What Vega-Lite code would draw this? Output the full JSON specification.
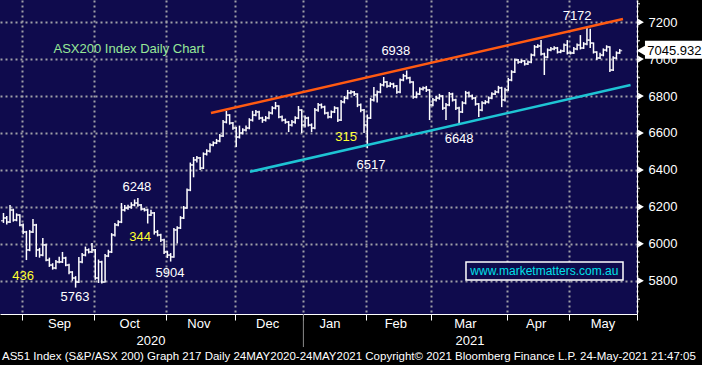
{
"$schema":"https://vega.github.io/schema/vega-lite/v6.json",
"width":637,"height":314,"autosize":"none",
"padding":{"left":0,"top":0,"right":65,"bottom":51},
"background":"#000000",
"config":{"view":{"fill":"#0f0b4d","stroke":null}},
"resolve":{"axis":{"x":"independent","y":"independent"}},
"datasets":{
"bars":[
{"d":0,"o":6125,"h":6167,"l":6113,"c":6140},{"d":1,"o":6140,"h":6150,"l":6105,"c":6118},{"d":2,"o":6118,"h":6210,"l":6112,"c":6183},{"d":3,"o":6183,"h":6190,"l":6120,"c":6129},{"d":4,"o":6129,"h":6165,"l":6122,"c":6156},{"d":5,"o":6156,"h":6160,"l":6095,"c":6102},{"d":6,"o":6102,"h":6110,"l":6052,"c":6064},{"d":7,"o":6064,"h":6070,"l":5912,"c":5967},{"d":8,"o":5967,"h":6075,"l":5960,"c":6064},{"d":9,"o":6064,"h":6134,"l":6058,"c":6102},
{"d":10,"o":6102,"h":6108,"l":5929,"c":5967},{"d":11,"o":5967,"h":5978,"l":5925,"c":5939},{"d":12,"o":5939,"h":6031,"l":5932,"c":5994},{"d":13,"o":5994,"h":6000,"l":5905,"c":5912},{"d":14,"o":5912,"h":5925,"l":5875,"c":5885},{"d":15,"o":5885,"h":5895,"l":5860,"c":5869},{"d":16,"o":5869,"h":5912,"l":5862,"c":5902},{"d":17,"o":5902,"h":5930,"l":5895,"c":5902},{"d":18,"o":5902,"h":5956,"l":5896,"c":5923},{"d":19,"o":5923,"h":5930,"l":5878,"c":5885},
{"d":20,"o":5885,"h":5892,"l":5835,"c":5847},{"d":21,"o":5847,"h":5852,"l":5800,"c":5815},{"d":22,"o":5815,"h":5825,"l":5763,"c":5793},{"d":23,"o":5793,"h":5929,"l":5788,"c":5902},{"d":24,"o":5902,"h":5950,"l":5895,"c":5939},{"d":25,"o":5939,"h":5985,"l":5932,"c":5967},{"d":26,"o":5967,"h":5975,"l":5948,"c":5956},{"d":27,"o":5956,"h":6004,"l":5950,"c":5967},{"d":28,"o":5967,"h":5972,"l":5805,"c":5815},{"d":29,"o":5815,"h":5915,"l":5788,"c":5902},
{"d":30,"o":5902,"h":5908,"l":5785,"c":5793},{"d":31,"o":5793,"h":5945,"l":5790,"c":5934},{"d":32,"o":5934,"h":5968,"l":5928,"c":5956},{"d":33,"o":5956,"h":6058,"l":5950,"c":6048},{"d":34,"o":6048,"h":6112,"l":6040,"c":6102},{"d":35,"o":6102,"h":6128,"l":6095,"c":6118},{"d":36,"o":6118,"h":6221,"l":6112,"c":6183},{"d":37,"o":6183,"h":6210,"l":6175,"c":6194},{"d":38,"o":6194,"h":6212,"l":6185,"c":6199},{"d":39,"o":6199,"h":6225,"l":6190,"c":6210},
{"d":40,"o":6210,"h":6240,"l":6203,"c":6221},{"d":41,"o":6221,"h":6248,"l":6200,"c":6210},{"d":42,"o":6210,"h":6215,"l":6180,"c":6188},{"d":43,"o":6188,"h":6195,"l":6175,"c":6183},{"d":44,"o":6183,"h":6190,"l":6110,"c":6156},{"d":45,"o":6156,"h":6185,"l":6150,"c":6167},{"d":46,"o":6167,"h":6172,"l":6050,"c":6064},{"d":47,"o":6064,"h":6075,"l":6040,"c":6048},{"d":48,"o":6048,"h":6055,"l":6010,"c":6021},{"d":49,"o":6021,"h":6028,"l":5945,"c":5956},
{"d":50,"o":5956,"h":5962,"l":5923,"c":5939},{"d":51,"o":5939,"h":5950,"l":5904,"c":5929},{"d":52,"o":5929,"h":6085,"l":5925,"c":6075},{"d":53,"o":6075,"h":6095,"l":6002,"c":6086},{"d":54,"o":6086,"h":6150,"l":6080,"c":6140},{"d":55,"o":6140,"h":6205,"l":6135,"c":6194},{"d":56,"o":6194,"h":6300,"l":6190,"c":6291},{"d":57,"o":6291,"h":6440,"l":6285,"c":6427},{"d":58,"o":6427,"h":6470,"l":6360,"c":6454},{"d":59,"o":6454,"h":6475,"l":6440,"c":6465},
{"d":60,"o":6465,"h":6470,"l":6400,"c":6410},{"d":61,"o":6410,"h":6495,"l":6405,"c":6486},{"d":62,"o":6486,"h":6512,"l":6478,"c":6502},{"d":63,"o":6502,"h":6545,"l":6495,"c":6535},{"d":64,"o":6535,"h":6555,"l":6528,"c":6546},{"d":65,"o":6546,"h":6568,"l":6540,"c":6557},{"d":66,"o":6557,"h":6595,"l":6550,"c":6584},{"d":67,"o":6584,"h":6670,"l":6578,"c":6659},{"d":68,"o":6659,"h":6719,"l":6652,"c":6697},{"d":69,"o":6697,"h":6702,"l":6645,"c":6654},
{"d":70,"o":6654,"h":6660,"l":6618,"c":6627},{"d":71,"o":6627,"h":6632,"l":6524,"c":6578},{"d":72,"o":6578,"h":6640,"l":6570,"c":6600},{"d":73,"o":6600,"h":6625,"l":6592,"c":6616},{"d":74,"o":6616,"h":6640,"l":6608,"c":6627},{"d":75,"o":6627,"h":6680,"l":6620,"c":6670},{"d":76,"o":6670,"h":6720,"l":6662,"c":6697},{"d":77,"o":6697,"h":6725,"l":6690,"c":6714},{"d":78,"o":6714,"h":6720,"l":6672,"c":6681},{"d":79,"o":6681,"h":6688,"l":6655,"c":6670},
{"d":80,"o":6670,"h":6692,"l":6662,"c":6681},{"d":81,"o":6681,"h":6718,"l":6675,"c":6708},{"d":82,"o":6708,"h":6745,"l":6700,"c":6735},{"d":83,"o":6735,"h":6768,"l":6728,"c":6746},{"d":84,"o":6746,"h":6750,"l":6680,"c":6687},{"d":85,"o":6687,"h":6695,"l":6662,"c":6670},{"d":86,"o":6670,"h":6678,"l":6650,"c":6659},{"d":87,"o":6659,"h":6665,"l":6605,"c":6643},{"d":88,"o":6643,"h":6670,"l":6635,"c":6659},{"d":89,"o":6659,"h":6690,"l":6650,"c":6681},
{"d":90,"o":6681,"h":6746,"l":6675,"c":6724},{"d":91,"o":6724,"h":6728,"l":6600,"c":6643},{"d":92,"o":6643,"h":6695,"l":6630,"c":6681},{"d":93,"o":6681,"h":6688,"l":6635,"c":6643},{"d":94,"o":6643,"h":6652,"l":6605,"c":6627},{"d":95,"o":6627,"h":6735,"l":6620,"c":6724},{"d":96,"o":6724,"h":6762,"l":6715,"c":6752},{"d":97,"o":6752,"h":6760,"l":6732,"c":6741},{"d":98,"o":6741,"h":6748,"l":6700,"c":6708},{"d":99,"o":6708,"h":6715,"l":6678,"c":6687},
{"d":100,"o":6687,"h":6722,"l":6680,"c":6714},{"d":101,"o":6714,"h":6745,"l":6708,"c":6735},{"d":102,"o":6735,"h":6740,"l":6660,"c":6670},{"d":103,"o":6670,"h":6778,"l":6665,"c":6768},{"d":104,"o":6768,"h":6800,"l":6760,"c":6789},{"d":105,"o":6789,"h":6833,"l":6782,"c":6817},{"d":106,"o":6817,"h":6832,"l":6810,"c":6822},{"d":107,"o":6822,"h":6828,"l":6800,"c":6811},{"d":108,"o":6811,"h":6815,"l":6740,"c":6752},{"d":109,"o":6752,"h":6760,"l":6712,"c":6724},
{"d":110,"o":6724,"h":6730,"l":6600,"c":6643},{"d":111,"o":6643,"h":6700,"l":6517,"c":6681},{"d":112,"o":6681,"h":6790,"l":6676,"c":6779},{"d":113,"o":6779,"h":6849,"l":6770,"c":6806},{"d":114,"o":6806,"h":6830,"l":6765,"c":6822},{"d":115,"o":6822,"h":6870,"l":6815,"c":6860},{"d":116,"o":6860,"h":6903,"l":6852,"c":6876},{"d":117,"o":6876,"h":6882,"l":6845,"c":6854},{"d":118,"o":6854,"h":6875,"l":6848,"c":6865},{"d":119,"o":6865,"h":6872,"l":6842,"c":6854},
{"d":120,"o":6854,"h":6860,"l":6812,"c":6822},{"d":121,"o":6822,"h":6895,"l":6815,"c":6887},{"d":122,"o":6887,"h":6920,"l":6880,"c":6909},{"d":123,"o":6909,"h":6938,"l":6890,"c":6898},{"d":124,"o":6898,"h":6905,"l":6868,"c":6876},{"d":125,"o":6876,"h":6880,"l":6785,"c":6795},{"d":126,"o":6795,"h":6825,"l":6788,"c":6811},{"d":127,"o":6811,"h":6848,"l":6805,"c":6838},{"d":128,"o":6838,"h":6852,"l":6830,"c":6844},{"d":129,"o":6844,"h":6855,"l":6822,"c":6833},
{"d":130,"o":6833,"h":6838,"l":6670,"c":6752},{"d":131,"o":6752,"h":6790,"l":6745,"c":6779},{"d":132,"o":6779,"h":6800,"l":6770,"c":6789},{"d":133,"o":6789,"h":6812,"l":6780,"c":6800},{"d":134,"o":6800,"h":6805,"l":6725,"c":6735},{"d":135,"o":6735,"h":6762,"l":6670,"c":6752},{"d":136,"o":6752,"h":6822,"l":6745,"c":6811},{"d":137,"o":6811,"h":6818,"l":6770,"c":6779},{"d":138,"o":6779,"h":6785,"l":6725,"c":6735},{"d":139,"o":6735,"h":6742,"l":6648,"c":6714},
{"d":140,"o":6714,"h":6772,"l":6708,"c":6762},{"d":141,"o":6762,"h":6828,"l":6755,"c":6817},{"d":142,"o":6817,"h":6825,"l":6792,"c":6800},{"d":143,"o":6800,"h":6808,"l":6780,"c":6789},{"d":144,"o":6789,"h":6795,"l":6748,"c":6757},{"d":145,"o":6757,"h":6762,"l":6687,"c":6724},{"d":146,"o":6724,"h":6772,"l":6718,"c":6762},{"d":147,"o":6762,"h":6778,"l":6755,"c":6768},{"d":148,"o":6768,"h":6798,"l":6760,"c":6789},{"d":149,"o":6789,"h":6820,"l":6782,"c":6811},
{"d":150,"o":6811,"h":6832,"l":6805,"c":6822},{"d":151,"o":6822,"h":6855,"l":6815,"c":6844},{"d":152,"o":6844,"h":6850,"l":6740,"c":6779},{"d":153,"o":6779,"h":6845,"l":6770,"c":6833},{"d":154,"o":6833,"h":6898,"l":6828,"c":6887},{"d":155,"o":6887,"h":6940,"l":6880,"c":6930},{"d":156,"o":6930,"h":7003,"l":6925,"c":6995},{"d":157,"o":6995,"h":7000,"l":6975,"c":6984},{"d":158,"o":6984,"h":6998,"l":6978,"c":6990},{"d":159,"o":6990,"h":6995,"l":6965,"c":6974},
{"d":160,"o":6974,"h":6992,"l":6968,"c":6984},{"d":161,"o":6984,"h":7030,"l":6978,"c":7022},{"d":162,"o":7022,"h":7076,"l":7015,"c":7066},{"d":163,"o":7066,"h":7080,"l":7060,"c":7071},{"d":164,"o":7071,"h":7103,"l":7020,"c":7028},{"d":165,"o":7028,"h":7035,"l":6914,"c":7011},{"d":166,"o":7011,"h":7058,"l":7005,"c":7049},{"d":167,"o":7049,"h":7065,"l":7042,"c":7055},{"d":168,"o":7055,"h":7070,"l":7048,"c":7060},{"d":169,"o":7060,"h":7066,"l":7030,"c":7038},
{"d":170,"o":7038,"h":7052,"l":7032,"c":7044},{"d":171,"o":7044,"h":7085,"l":7038,"c":7076},{"d":172,"o":7076,"h":7103,"l":7025,"c":7033},{"d":173,"o":7033,"h":7042,"l":7025,"c":7033},{"d":174,"o":7033,"h":7065,"l":7028,"c":7055},{"d":175,"o":7055,"h":7085,"l":7048,"c":7076},{"d":176,"o":7076,"h":7130,"l":7052,"c":7060},{"d":177,"o":7060,"h":7092,"l":7055,"c":7082},{"d":178,"o":7082,"h":7172,"l":7075,"c":7103},{"d":179,"o":7103,"h":7165,"l":7060,"c":7087},
{"d":180,"o":7087,"h":7090,"l":7030,"c":7038},{"d":181,"o":7038,"h":7042,"l":6995,"c":7006},{"d":182,"o":7006,"h":7035,"l":7000,"c":7022},{"d":183,"o":7022,"h":7058,"l":7015,"c":7049},{"d":184,"o":7049,"h":7075,"l":7040,"c":7066},{"d":185,"o":7066,"h":7070,"l":6930,"c":6941},{"d":186,"o":6941,"h":7015,"l":6935,"c":7006},{"d":187,"o":7006,"h":7042,"l":7000,"c":7033},{"d":188,"o":7033,"h":7055,"l":7028,"c":7046}
],
"upper":[{"d":63.3,"v":6708},{"d":189,"v":7217}],
"lower":[{"d":75.2,"v":6390},{"d":191.3,"v":6860}],
"yticks":[{"v":5800},{"v":6000},{"v":6200},{"v":6400},{"v":6600},{"v":6800},{"v":7000},{"v":7200}],
"minor":[{"v":5700},{"v":5900},{"v":6100},{"v":6300},{"v":6500},{"v":6700},{"v":6900},{"v":7100},{"v":7300}],
"title":[{"t":"ASX200 Index Daily Chart","d":38.3,"v":7055}],
"white":[{"t":"6248","d":40.7,"v":6308},{"t":"5763","d":21.8,"v":5712},{"t":"5904","d":50.8,"v":5842},{"t":"6517","d":112.1,"v":6427},{"t":"6648","d":139,"v":6567},{"t":"6938","d":119.7,"v":7044},{"t":"7172","d":175,"v":7233}],
"yellow":[{"t":"436","d":6,"v":5826},{"t":"344","d":41.7,"v":6037},{"t":"315","d":104.5,"v":6578}],
"months":[{"t":"Sep","d":17.1,"v":5566},{"t":"Oct","d":38.5,"v":5566},{"t":"Nov","d":59.6,"v":5566},{"t":"Dec","d":80.6,"v":5566},{"t":"Jan","d":99.6,"v":5566},{"t":"Feb","d":119.7,"v":5566},{"t":"Mar","d":140.9,"v":5566},{"t":"Apr","d":162.5,"v":5566},{"t":"May","d":182.9,"v":5566}],
"years":[{"t":"2020","d":45,"v":5474},{"t":"2021","d":142.3,"v":5474}],
"sep":[{"d":91.5,"v":5620,"v2":5441}],
"footer":[{"t":"AS51 Index (S&P/ASX 200) Graph 217  Daily 24MAY2020-24MAY2021  Copyright© 2021 Bloomberg Finance L.P.  24-May-2021 21:47:05","d":-0.45,"v":5387}],
"web":[{"t":"www.marketmatters.com.au","d1":141.1,"d2":189,"v1":5902,"v2":5804,"d":165,"v":5853}],
"last":[{"t":"7045.932","d1":195.7,"d2":214,"v1":7100,"v2":7002,"da":194.8,"dt":196.4,"v":7046}]
},
"layer":[
{"data":{"name":"bars"},"mark":{"type":"rule","color":"#ffffff","strokeWidth":1.5},
 "encoding":{
  "x":{"field":"d","type":"quantitative","scale":{"domain":[-1.06,193.27],"nice":false,"zero":false},
   "axis":{"orient":"bottom","values":[5.5,27.5,49.5,70.5,91.5,110.5,130.5,153.5,172.5,193.2],"labels":false,"title":null,"grid":true,"gridDash":[2,3],"gridColor":"#a0a0a8","gridWidth":2,"tickColor":"#ffffff","tickSize":6,"domainColor":"#ffffff"}},
  "y":{"field":"l","type":"quantitative","scale":{"domain":[5620,7320],"nice":false,"zero":false},
   "axis":{"orient":"right","values":[5800,6000,6200,6400,6600,6800,7000,7200],"format":"d","title":null,"grid":true,"gridDash":[2,3],"gridColor":"#a0a0a8","gridWidth":2,"tickColor":"#ffffff","tickSize":3,"domainColor":"#ffffff","labelColor":"#ffffff","labelFont":"Liberation Sans","labelFontSize":13,"labelPadding":8}},
  "y2":{"field":"h"}}},
{"data":{"name":"bars"},"mark":{"type":"tick","orient":"horizontal","color":"#ffffff","size":2.5,"thickness":1.5,"xOffset":-1.2},
 "encoding":{"x":{"field":"d","type":"quantitative","axis":null},"y":{"field":"o","type":"quantitative","axis":null}}},
{"data":{"name":"bars"},"mark":{"type":"tick","orient":"horizontal","color":"#ffffff","size":2.5,"thickness":1.5,"xOffset":1.2},
 "encoding":{"x":{"field":"d","type":"quantitative","axis":null},"y":{"field":"c","type":"quantitative","axis":null}}},
{"data":{"name":"upper"},"mark":{"type":"line","color":"#ff5a12","strokeWidth":2.5},
 "encoding":{"x":{"field":"d","type":"quantitative","axis":null},"y":{"field":"v","type":"quantitative","axis":null}}},
{"data":{"name":"lower"},"mark":{"type":"line","color":"#1ec4d4","strokeWidth":2.5},
 "encoding":{"x":{"field":"d","type":"quantitative","axis":null},"y":{"field":"v","type":"quantitative","axis":null}}},
{"data":{"name":"yticks"},"mark":{"type":"point","shape":"triangle-right","filled":true,"color":"#ffffff","size":45,"opacity":1},
 "encoding":{"x":{"datum":194.49,"type":"quantitative","axis":null},"y":{"field":"v","type":"quantitative","axis":null}}},
{"data":{"name":"minor"},"mark":{"type":"tick","orient":"horizontal","color":"#ffffff","size":3,"thickness":1.5},
 "encoding":{"x":{"datum":193.73,"type":"quantitative","axis":null},"y":{"field":"v","type":"quantitative","axis":null}}},
{"data":{"name":"web"},"mark":{"type":"rect","fill":"#0f0b4d","stroke":"#ffffff","strokeWidth":1.5},
 "encoding":{"x":{"field":"d1","type":"quantitative","axis":null},"x2":{"field":"d2"},"y":{"field":"v1","type":"quantitative","axis":null},"y2":{"field":"v2"}}},
{"data":{"name":"web"},"mark":{"type":"text","color":"#00e0ea","font":"Liberation Sans","fontSize":12,"align":"center","baseline":"middle"},
 "encoding":{"x":{"field":"d","type":"quantitative","axis":null},"y":{"field":"v","type":"quantitative","axis":null},"text":{"field":"t"}}},
{"data":{"name":"last"},"mark":{"type":"rect","fill":"#ffffff"},
 "encoding":{"x":{"field":"d1","type":"quantitative","axis":null},"x2":{"field":"d2"},"y":{"field":"v1","type":"quantitative","axis":null},"y2":{"field":"v2"}}},
{"data":{"name":"last"},"mark":{"type":"point","shape":"triangle-left","filled":true,"color":"#ffffff","size":150,"opacity":1},
 "encoding":{"x":{"field":"da","type":"quantitative","axis":null},"y":{"field":"v","type":"quantitative","axis":null}}},
{"data":{"name":"last"},"mark":{"type":"text","color":"#000000","font":"Liberation Sans","fontSize":13,"align":"left","baseline":"middle"},
 "encoding":{"x":{"field":"dt","type":"quantitative","axis":null},"y":{"field":"v","type":"quantitative","axis":null},"text":{"field":"t"}}},
{"data":{"name":"title"},"mark":{"type":"text","color":"#98e898","font":"Liberation Sans","fontSize":13,"align":"center","baseline":"middle"},
 "encoding":{"x":{"field":"d","type":"quantitative","axis":null},"y":{"field":"v","type":"quantitative","axis":null},"text":{"field":"t"}}},
{"data":{"name":"white"},"mark":{"type":"text","color":"#ffffff","font":"Liberation Sans","fontSize":13,"align":"center","baseline":"middle"},
 "encoding":{"x":{"field":"d","type":"quantitative","axis":null},"y":{"field":"v","type":"quantitative","axis":null},"text":{"field":"t"}}},
{"data":{"name":"yellow"},"mark":{"type":"text","color":"#ffff30","font":"Liberation Sans","fontSize":13,"align":"center","baseline":"middle"},
 "encoding":{"x":{"field":"d","type":"quantitative","axis":null},"y":{"field":"v","type":"quantitative","axis":null},"text":{"field":"t"}}},
{"data":{"name":"months"},"mark":{"type":"text","color":"#ffffff","font":"Liberation Sans","fontSize":13,"align":"center","baseline":"middle"},
 "encoding":{"x":{"field":"d","type":"quantitative","axis":null},"y":{"field":"v","type":"quantitative","axis":null},"text":{"field":"t"}}},
{"data":{"name":"years"},"mark":{"type":"text","color":"#ffffff","font":"Liberation Sans","fontSize":13,"align":"center","baseline":"middle"},
 "encoding":{"x":{"field":"d","type":"quantitative","axis":null},"y":{"field":"v","type":"quantitative","axis":null},"text":{"field":"t"}}},
{"data":{"name":"sep"},"mark":{"type":"rule","color":"#8a8a8a","strokeWidth":1},
 "encoding":{"x":{"field":"d","type":"quantitative","axis":null},"y":{"field":"v","type":"quantitative","axis":null},"y2":{"field":"v2"}}},
{"data":{"name":"footer"},"mark":{"type":"text","color":"#ffffff","font":"Liberation Sans","fontSize":11.5,"align":"left","baseline":"middle"},
 "encoding":{"x":{"field":"d","type":"quantitative","axis":null},"y":{"field":"v","type":"quantitative","axis":null},"text":{"field":"t"}}}
]
}
